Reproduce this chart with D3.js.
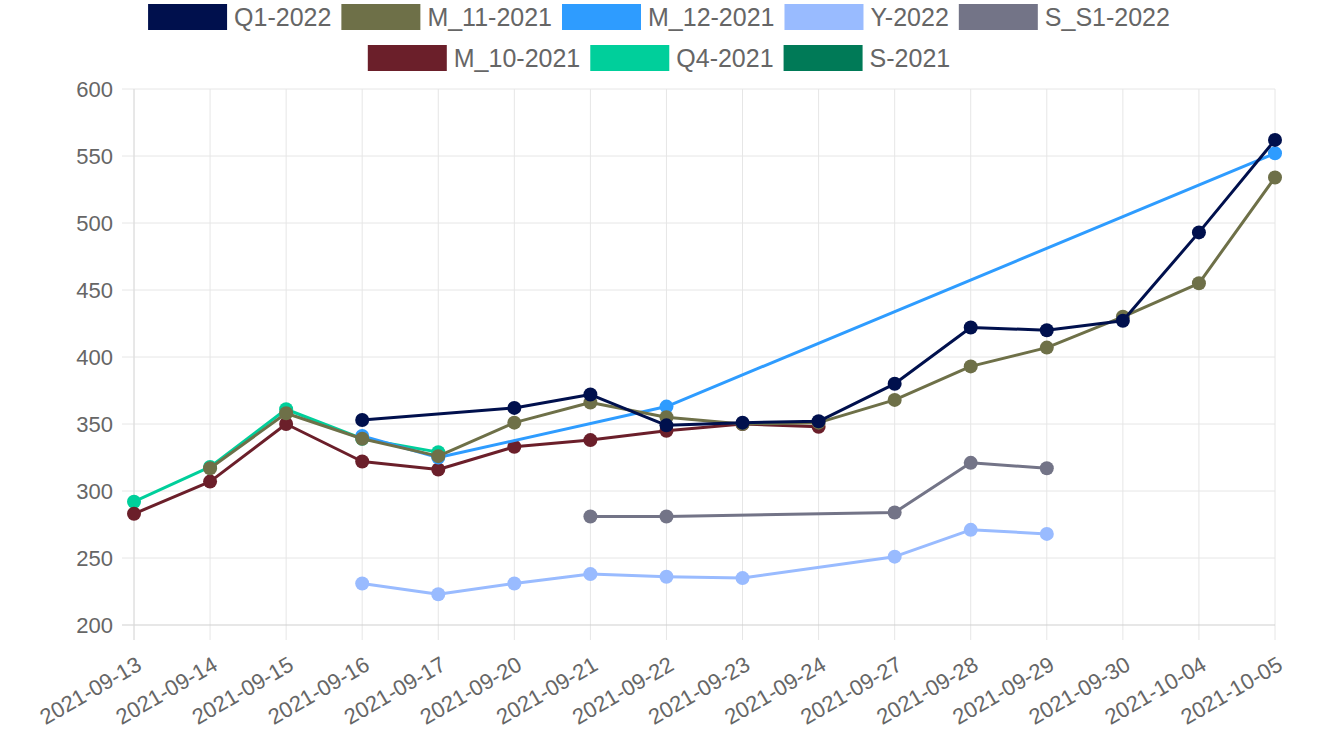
<!DOCTYPE html>
<html><head><meta charset="utf-8">
<script src="https://cdn.jsdelivr.net/npm/d3@7/dist/d3.min.js"></script>
<style>body{margin:0;background:#fff;}svg{display:block;font-family:"Liberation Sans",Arial,sans-serif;}</style>
</head><body>
<svg id="c" width="1321" height="750"></svg>
<script>
const dates = ["2021-09-13","2021-09-14","2021-09-15","2021-09-16","2021-09-17","2021-09-20","2021-09-21","2021-09-22","2021-09-23","2021-09-24","2021-09-27","2021-09-28","2021-09-29","2021-09-30","2021-10-04","2021-10-05"];
const yTicks = [200,250,300,350,400,450,500,550,600];
const seriesNames = ["Q1-2022","M_11-2021","M_12-2021","Y-2022","S_S1-2022","M_10-2021","Q4-2021","S-2021"];
const seriesColors = ["#00104d","#6e7048","#2e9cff","#99bbff","#737487","#6b1f2a","#00cf9b","#007a57"];
const q1_2022   = [null,null,null,353,null,362,372,349,351,352,380,422,420,427,493,562];
const m11_2021  = [null,317,358,339,326,351,366,355,350,351,368,393,407,430,455,534];
const m12_2021  = [null,null,null,341,325,null,null,363,null,null,null,null,null,null,null,552];
const y_2022    = [null,null,null,231,223,231,238,236,235,null,251,271,268,null,null,null];
const s_s1_2022 = [null,null,null,null,null,null,281,281,null,null,284,321,317,null,null,null];
const m10_2021  = [283,307,350,322,316,333,338,345,350,348,null,null,null,null,null,null];
const q4_2021   = [292,318,361,339,329,null,null,null,null,null,null,null,null,null,null,null];
const s_2021    = [null,null,null,null,null,null,null,null,null,null,null,null,null,null,null,null];
const seriesValues = [q1_2022,m11_2021,m12_2021,y_2022,s_s1_2022,m10_2021,q4_2021,s_2021];

const svg = d3.select("#c");
const pL = 134, pR = 1275, pT = 89, pB = 625;
const x = d3.scalePoint().domain(dates).range([pL, pR]);
const y = d3.scaleLinear().domain([200,600]).range([pB, pT]);
const txt = "#666";

// grid
const g = svg.append("g");
g.selectAll("line.v").data(dates).enter().append("line")
  .attr("x1", d=>x(d)).attr("x2", d=>x(d)).attr("y1", pT).attr("y2", pB+15)
  .attr("stroke", "#e6e6e6").attr("stroke-width", 1);
g.selectAll("line.h").data(yTicks).enter().append("line")
  .attr("x1", pL-12).attr("x2", pR).attr("y1", d=>y(d)).attr("y2", d=>y(d))
  .attr("stroke", d=> d===200 ? "#cfcfcf" : "#e6e6e6").attr("stroke-width", 1);
g.append("line").attr("x1",pL).attr("x2",pL).attr("y1",pT).attr("y2",pB+15).attr("stroke","#dcdcdc");

// y labels
g.selectAll("text.y").data(yTicks).enter().append("text")
  .attr("x", pL-21).attr("y", d=>y(d)).attr("dy","0.36em")
  .attr("text-anchor","end").attr("font-size",22).attr("fill",txt).text(d=>d);

// x labels
g.selectAll("text.x").data(dates).enter().append("text")
  .attr("transform", d=>`translate(${x(d)+9},${pB+44}) rotate(-30)`)
  .attr("text-anchor","end").attr("font-size",22).attr("fill",txt).text(d=>d);

// series (first dataset on top)
const line = d3.line().x(d=>x(d.date)).y(d=>y(d.v));
for (let i = seriesNames.length-1; i >= 0; i--) {
  const pts = dates.map((dt,j)=>({date:dt, v:seriesValues[i][j]})).filter(p=>p.v!==null);
  if (!pts.length) continue;
  const sg = svg.append("g");
  sg.append("path").datum(pts).attr("d", line).attr("fill","none")
    .attr("stroke", seriesColors[i]).attr("stroke-width", 3).attr("stroke-linejoin","round");
  sg.selectAll("circle").data(pts).enter().append("circle")
    .attr("cx", d=>x(d.date)).attr("cy", d=>y(d.v)).attr("r", 7)
    .attr("fill", seriesColors[i]);
}

// legend
const rows = [[0,1,2,3,4],[5,6,7]];
const rowY = [17, 58];
const boxW = 79, boxH = 26, textGap = 7, itemGap = 10;
rows.forEach((row, ri) => {
  const lg = svg.append("g");
  let cx = 0;
  row.forEach(i => {
    const it = lg.append("g").attr("transform", `translate(${cx},0)`);
    it.append("rect").attr("x",0).attr("y",rowY[ri]-boxH/2).attr("width",boxW).attr("height",boxH)
      .attr("fill", seriesColors[i]);
    const t = it.append("text").attr("x", boxW+textGap).attr("y", rowY[ri]).attr("dy","0.36em")
      .attr("font-size",25).attr("fill",txt).text(seriesNames[i]);
    cx += boxW + textGap + t.node().getComputedTextLength() + itemGap;
  });
  const total = cx - itemGap;
  lg.attr("transform", `translate(${659 - total/2},0)`);
});
</script>
</body></html>
